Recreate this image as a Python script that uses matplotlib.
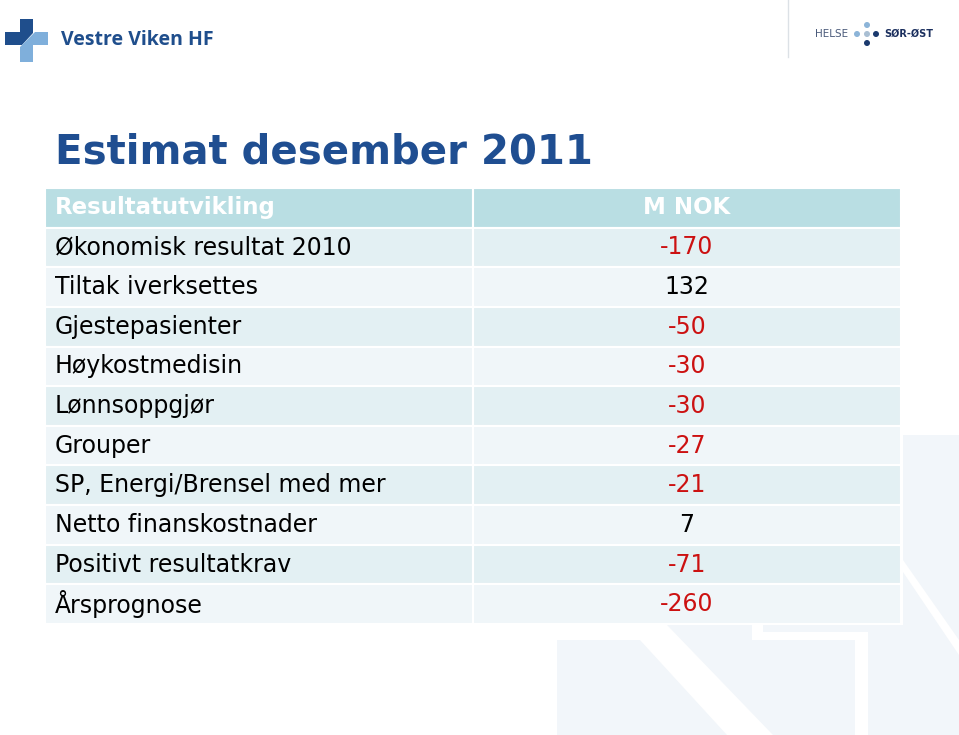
import matplotlib.pyplot as plt
from matplotlib.patches import Rectangle, Polygon, Circle

# tabelldata
labels = ["Økonomisk resultat 2010", "Tiltak iverksettes", "Gjestepasienter",
          "Høykostmedisin", "Lønnsoppgjør", "Grouper",
          "SP, Energi/Brensel med mer", "Netto finanskostnader",
          "Positivt resultatkrav", "Årsprognose"]
values = [-170, 132, -50, -30, -30, -27, -21, 7, -71, -260]
header = ["Resultatutvikling", "M NOK"]
title = "Estimat desember 2011"

blue = "#1F4E91"
red = "#CC1111"
head_col = "#B9DEE3"
row_cols = ["#E3F0F3", "#F0F6F9"]
wm = "#F2F6FA"

fig = plt.figure(figsize=(9.59, 7.35), dpi=100)
ax = fig.add_axes([0, 0, 1, 1])
ax.set_xlim(0, 959)
ax.set_ylim(735, 0)
ax.axis("off")

# vannmerke nede til hoyre
for pts in [[(557, 640), (640, 640), (727, 735), (557, 735)],
            [(667, 625), (752, 625), (752, 640), (855, 640), (855, 735), (773, 735)],
            [(903, 435), (959, 435), (959, 640), (903, 560)],
            [(903, 572), (959, 655), (959, 735), (868, 735), (868, 632),
             (763, 632), (763, 625), (903, 625)]]:
    ax.add_patch(Polygon(pts, closed=True, fc=wm, ec="none", zorder=0))

# logo Vestre Viken
ax.add_patch(Polygon([(20, 19), (33, 19), (33, 33), (22, 45), (5, 45), (5, 32), (20, 32)],
                     fc="#1F4E8C", ec="none"))
ax.add_patch(Polygon([(35, 32), (48, 32), (48, 45), (33, 45), (33, 62), (20, 62), (20, 47)],
                     fc="#7FAFDB", ec="none"))
ax.text(61, 40, "Vestre Viken HF", fontsize=14, fontweight="bold", family="Open Sans",
        color="#1F4E8C", va="center", ha="left")

# logo Helse Sor-Ost
ax.plot([788, 788], [0, 57], color="#DCE1E6", lw=1)
ax.text(815, 34, "HELSE", fontsize=7.5, color="#4A5A7A", va="center", ha="left")
for (cx, cy, c) in [(867, 25, "#8CB4D8"), (857, 34, "#8CB4D8"), (867, 34, "#A9BFD3"),
                    (876, 34, "#1B3A6E"), (867, 43, "#1B3A6E")]:
    ax.add_patch(Circle((cx, cy), 3, fc=c, ec="none"))
ax.text(884, 34, "SØR-ØST", fontsize=7, fontweight="bold", color="#1B2F5E",
        va="center", ha="left")

# tittel
ax.text(55, 152, title, fontsize=29, fontweight="bold", color=blue,
        va="center", ha="left")

# tabell
x0, xm, x1 = 45, 473, 901
y0, y1 = 188, 624
h = (y1 - y0) / (len(labels) + 1)

ax.add_patch(Rectangle((x0, y0), xm - x0, h, fc=head_col, ec="white", lw=1.5))
ax.add_patch(Rectangle((xm, y0), x1 - xm, h, fc=head_col, ec="white", lw=1.5))
ax.text(55, y0 + h / 2, header[0], fontsize=16.5, fontweight="bold", color="white",
        va="center", ha="left")
ax.text((xm + x1) / 2, y0 + h / 2, header[1], fontsize=16.5, fontweight="bold",
        color="white", va="center", ha="center")

for i, (lab, v) in enumerate(zip(labels, values)):
    top = y0 + h * (i + 1)
    fc = row_cols[i % 2]
    ax.add_patch(Rectangle((x0, top), xm - x0, h, fc=fc, ec="white", lw=1.5))
    ax.add_patch(Rectangle((xm, top), x1 - xm, h, fc=fc, ec="white", lw=1.5))
    ax.text(55, top + h / 2, lab, fontsize=17, color="black", va="center", ha="left")
    ax.text((xm + x1) / 2, top + h / 2, str(v), fontsize=17,
            color=red if v < 0 else "black", va="center", ha="center")

fig.savefig("out.png", dpi=100)
